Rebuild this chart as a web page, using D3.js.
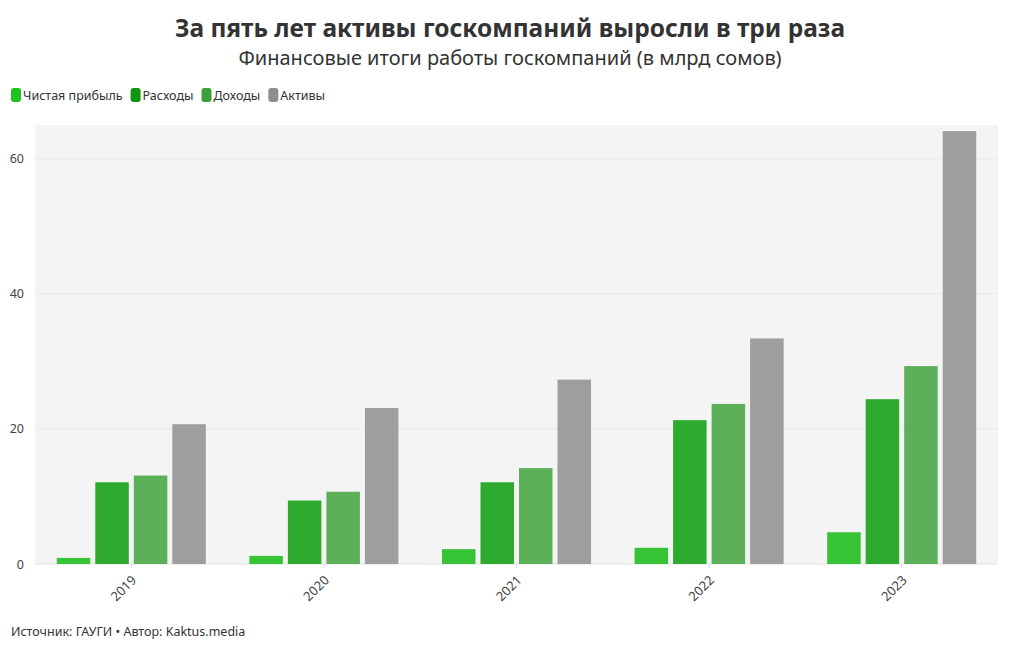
<!DOCTYPE html>
<html><head><meta charset="utf-8">
<script src="https://cdn.jsdelivr.net/npm/d3@7"></script>
<style>body{margin:0;background:#fff;font-family:"Noto Sans","Open Sans",sans-serif;}</style>
</head><body><svg id="c" width="1020" height="650"></svg>
<script>
const years = ["2019","2020","2021","2022","2023"];
const seriesNames = ["Чистая прибыль","Расходы","Доходы","Активы"];
const profit = [0.9, 1.2, 2.2, 2.4, 4.7];
const expenses = [12.1, 9.4, 12.1, 21.3, 24.4];
const incomes = [13.1, 10.7, 14.2, 23.7, 29.3];
const assets = [20.7, 23.1, 27.3, 33.4, 64.1];
const yTicks = [0, 20, 40, 60];
const barColors = ["#36c436","#2eaa2e","#5db05a","#9e9e9e"];
const legendColors = ["#1dc41d","#0c960c","#3aa03a","#8e8e8e"];

const values = [profit, expenses, incomes, assets];
const svg = d3.select("#c");
const m = {l:35, r:22, t:125, b:86};
const W = 1020, H = 650;
const iw = W - m.l - m.r, ih = H - m.t - m.b;
const g = svg.append("g").attr("transform",`translate(${m.l},${m.t})`);

g.append("rect").attr("width",iw).attr("height",ih).attr("fill","#f4f4f4");

const x = d3.scaleBand().domain(years).range([0,iw]).paddingInner(0.2).paddingOuter(0.1);
const xs = d3.scaleBand().domain(seriesNames).range([0,x.bandwidth()]).paddingInner(0.13).paddingOuter(0.065);
const y = d3.scaleLinear().domain([0,65]).range([ih,0]);

g.append("g").selectAll("line").data(yTicks.slice(1)).join("line")
  .attr("x1",0).attr("x2",iw).attr("y1",d=>y(d)).attr("y2",d=>y(d))
  .attr("stroke","#e9e9e9").attr("stroke-width",1);
g.append("line").attr("x1",0).attr("x2",iw).attr("y1",ih).attr("y2",ih).attr("stroke","#e3e3e3");

const yAxis = g.append("g").call(d3.axisLeft(y).tickValues(yTicks).tickSize(0).tickPadding(11));
yAxis.select(".domain").remove();
yAxis.selectAll("text").attr("fill","#444").style("font-size","12.5px").style("font-family","Noto Sans");

years.forEach((yr,i)=>{
  const gg = g.append("g").attr("transform",`translate(${x(yr)},0)`);
  seriesNames.forEach((s,j)=>{
    const v = values[j][i];
    gg.append("rect").attr("x",xs(s)).attr("width",xs.bandwidth())
      .attr("y",y(v)).attr("height",ih-y(v)).attr("fill",barColors[j]);
  });
});

const xAxis = g.append("g").attr("transform",`translate(0,${ih})`).call(d3.axisBottom(x).tickSize(4).tickPadding(2));
xAxis.select(".domain").remove();
xAxis.selectAll("line").attr("stroke","#ddd");
xAxis.selectAll("text").attr("fill","#444").style("font-size","13px").style("font-family","Noto Sans")
  .attr("text-anchor","end").attr("x",0).attr("y",0).attr("dy",0)
  .attr("transform","translate(6,17) rotate(-45)");

svg.append("text").attr("x",510).attr("y",37).attr("text-anchor","middle")
  .style("font-size","24.5px").style("font-weight","bold").attr("fill","#333")
  .style("font-family","Noto Sans").text("За пять лет активы госкомпаний выросли в три раза");
svg.append("text").attr("x",510).attr("y",65).attr("text-anchor","middle")
  .style("font-size","20px").attr("fill","#333").style("font-family","Noto Sans")
  .text("Финансовые итоги работы госкомпаний (в млрд сомов)");

const lg = svg.append("g").attr("transform","translate(11,88)");
let lx = 0;
seriesNames.forEach((s,j)=>{
  const it = lg.append("g").attr("transform",`translate(${lx},0)`);
  it.append("rect").attr("width",10).attr("height",14).attr("rx",3).attr("fill",legendColors[j]);
  const t = it.append("text").attr("x",12).attr("y",11.5).style("font-size","12.5px").attr("fill","#333")
    .style("font-family","Noto Sans").text(s);
  lx += 12 + t.node().getComputedTextLength() + 8;
});

svg.append("text").attr("x",11).attr("y",636).style("font-size","12.5px").attr("fill","#333")
  .style("font-family","Noto Sans").text("Источник: ГАУГИ • Автор: Kaktus.media");
</script></body></html>
